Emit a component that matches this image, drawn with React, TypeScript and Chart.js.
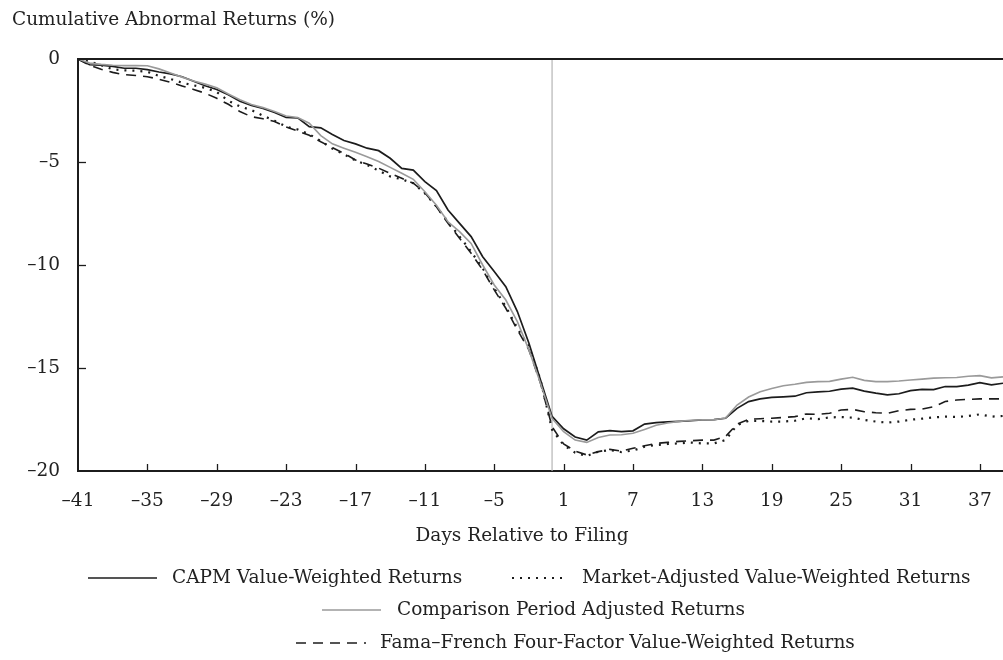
import { useEffect, useRef } from "react";
import { Chart, registerables } from "chart.js";

Chart.register(...registerables);

const days = [
  -41, -40, -39, -38, -37, -36, -35, -34, -33, -32, -31, -30, -29, -28, -27, -26, -25, -24, -23, -22, -21,
  -20, -19, -18, -17, -16, -15, -14, -13, -12, -11, -10, -9, -8, -7, -6, -5, -4, -3, -2, -1,
  0, 1, 2, 3, 4, 5, 6, 7, 8, 9, 10, 11, 12, 13, 14, 15, 16, 17, 18, 19,
  20, 21, 22, 23, 24, 25, 26, 27, 28, 29, 30, 31, 32, 33, 34, 35, 36, 37, 38, 39,
];

const capmVW = [
  0, -0.28, -0.3, -0.36, -0.45, -0.45, -0.52, -0.63, -0.72, -0.86, -1.08, -1.3, -1.48, -1.74, -2.05, -2.26, -2.4, -2.6, -2.84, -2.86, -3.28,
  -3.34, -3.66, -3.96, -4.12, -4.33, -4.45, -4.82, -5.31, -5.39, -5.95, -6.39, -7.33, -7.98, -8.62, -9.6, -10.32, -11.05, -12.26, -13.8, -15.58,
  -17.35, -17.95, -18.35, -18.5, -18.1, -18.04, -18.09, -18.05, -17.72, -17.65, -17.62, -17.59, -17.56, -17.52, -17.51, -17.44, -16.96, -16.63, -16.5, -16.43,
  -16.4, -16.37, -16.2, -16.16, -16.13, -16.03, -15.98, -16.12, -16.22, -16.3, -16.25, -16.1, -16.04, -16.05, -15.9, -15.9, -15.83, -15.71, -15.82, -15.74,
];

const marketAdjVW = [
  0, -0.12, -0.3, -0.5, -0.55, -0.57, -0.62, -0.82, -0.97, -1.15, -1.28, -1.4, -1.6, -2.03, -2.3, -2.48, -2.75, -3.0, -3.28, -3.42, -3.65,
  -3.98, -4.35, -4.62, -4.93, -5.14, -5.42, -5.7, -5.84, -6.03, -6.52, -7.17, -7.9, -8.62, -9.35, -10.16, -11.13, -12.02, -13.07, -13.96, -15.58,
  -18.0, -18.74, -19.11, -19.27, -19.06, -18.98, -19.08, -19.01, -18.82, -18.74, -18.69, -18.66, -18.62, -18.66, -18.66, -18.5, -17.77, -17.57, -17.57, -17.6,
  -17.6, -17.56, -17.44, -17.48, -17.4, -17.38, -17.41, -17.52, -17.6, -17.65, -17.6, -17.51, -17.46, -17.4, -17.36, -17.38, -17.33, -17.25, -17.36, -17.33,
];

const comparisonAdj = [
  0, -0.2, -0.26, -0.3, -0.32, -0.32, -0.33, -0.48, -0.68, -0.88, -1.07, -1.22, -1.4, -1.7, -1.98, -2.21, -2.36, -2.55, -2.77, -2.84, -3.12,
  -3.72, -4.12, -4.33, -4.53, -4.74, -4.98, -5.26, -5.55, -5.84, -6.44, -7.1, -7.9, -8.38, -8.95, -10.0, -10.97, -11.7, -12.75, -14.12, -15.74,
  -17.45, -18.09, -18.5, -18.61, -18.37, -18.25, -18.24, -18.17, -17.98, -17.78, -17.67, -17.59, -17.54, -17.52, -17.51, -17.43, -16.8, -16.41, -16.15, -16.0,
  -15.86, -15.79, -15.7, -15.66, -15.65, -15.54, -15.45, -15.6, -15.66, -15.66, -15.63, -15.58, -15.54, -15.49, -15.47, -15.46, -15.4, -15.37, -15.48, -15.43,
];

const famaFrenchVW = [
  0, -0.3, -0.5, -0.65, -0.76, -0.8, -0.86, -0.98, -1.13, -1.31, -1.48, -1.66, -1.91, -2.2, -2.55, -2.8, -2.9, -3.03, -3.3, -3.5, -3.7,
  -4.02, -4.3, -4.58, -4.9, -5.1, -5.3, -5.55, -5.79, -6.03, -6.49, -7.17, -7.98, -8.7, -9.43, -10.24, -11.21, -12.1, -13.15, -14.12, -15.74,
  -17.85, -18.69, -19.03, -19.22, -19.06, -18.95, -19.03, -18.9, -18.77, -18.66, -18.61, -18.56, -18.53, -18.5, -18.5, -18.33, -17.72, -17.49, -17.46, -17.44,
  -17.4, -17.36, -17.23, -17.25, -17.2, -17.04, -17.01, -17.12, -17.17, -17.2, -17.07, -17.01, -16.99, -16.88, -16.63, -16.55, -16.52, -16.5, -16.5, -16.5,
];

const xTicks = [-41, -35, -29, -23, -17, -11, -5, 1, 7, 13, 19, 25, 31, 37];
const yTicks = [0, -5, -10, -15, -20];

const yAxisTitle = "Cumulative Abnormal Returns (%)";
const xAxisTitle = "Days Relative to Filing";
const nameCapm = "CAPM Value-Weighted Returns";
const nameMarket = "Market-Adjusted Value-Weighted Returns";
const nameComparison = "Comparison Period Adjusted Returns";
const nameFF = "Fama\u2013French Four-Factor Value-Weighted Returns";

const FONT_FAMILY = '"DejaVu Serif", serif';
const FONT_SIZE = 18.5;
const TEXT = "#222222";
const DARK = "#1c1c1c";
const GREY = "#9a9a9a";
const DOT_DASH = [2, 6];
const LONG_DASH = [10, 7];

const fmt = (v: number) => (v < 0 ? "\u2013" + Math.abs(v) : String(v));

const toPoints = (vals: number[]) => days.map((d, i) => ({ x: d, y: vals[i] }));

const legendItems = [
  { label: nameCapm, color: DARK, dash: [] as number[], width: 1.7, x1: 88, x2: 157, tx: 172, y: 578 },
  { label: nameMarket, color: DARK, dash: DOT_DASH, width: 2.2, x1: 512, x2: 568, tx: 582, y: 578 },
  { label: nameComparison, color: GREY, dash: [] as number[], width: 1.6, x1: 322, x2: 381, tx: 397, y: 610 },
  { label: nameFF, color: DARK, dash: LONG_DASH, width: 1.6, x1: 296, x2: 366, tx: 380, y: 643 },
];

const decorPlugin = {
  id: "decor",
  beforeDatasetsDraw(chart: any) {
    const { ctx, chartArea: a, scales } = chart;
    const x0 = scales.x.getPixelForValue(0);
    ctx.save();
    ctx.strokeStyle = "#b5b5b5";
    ctx.lineWidth = 1.2;
    ctx.beginPath();
    ctx.moveTo(x0, a.top);
    ctx.lineTo(x0, a.bottom);
    ctx.stroke();
    ctx.restore();
  },
  afterDraw(chart: any) {
    const { ctx, chartArea: a, scales } = chart;
    ctx.save();
    // top frame line
    ctx.strokeStyle = DARK;
    ctx.lineWidth = 2;
    ctx.beginPath();
    ctx.moveTo(a.left, a.top);
    ctx.lineTo(chart.width, a.top);
    ctx.stroke();
    // inward tick marks
    ctx.lineWidth = 1.3;
    xTicks.slice(1).forEach((t) => {
      const px = Math.round(scales.x.getPixelForValue(t)) + 0.5;
      ctx.beginPath();
      ctx.moveTo(px, a.bottom);
      ctx.lineTo(px, a.bottom - 7);
      ctx.stroke();
    });
    yTicks.slice(1, -1).forEach((t) => {
      const py = Math.round(scales.y.getPixelForValue(t)) + 0.5;
      ctx.beginPath();
      ctx.moveTo(a.left, py);
      ctx.lineTo(a.left + 8, py);
      ctx.stroke();
    });
    // x axis title
    ctx.fillStyle = TEXT;
    ctx.font = `${FONT_SIZE}px ${FONT_FAMILY}`;
    ctx.textBaseline = "middle";
    ctx.textAlign = "center";
    ctx.fillText(xAxisTitle, 522, 536);
    // legend
    ctx.textAlign = "left";
    legendItems.forEach((it) => {
      ctx.strokeStyle = it.color;
      ctx.lineWidth = it.width;
      ctx.setLineDash(it.dash);
      ctx.beginPath();
      ctx.moveTo(it.x1, it.y);
      ctx.lineTo(it.x2, it.y);
      ctx.stroke();
      ctx.setLineDash([]);
      ctx.fillStyle = TEXT;
      ctx.fillText(it.label, it.tx, it.y);
    });
    ctx.restore();
  },
};

export default function App() {
  const ref = useRef<HTMLCanvasElement>(null);

  useEffect(() => {
    if (!ref.current) return;
    const font = { family: FONT_FAMILY, size: FONT_SIZE };
    const chart = new Chart(ref.current, {
      type: "line",
      data: {
        datasets: [
          {
            label: nameComparison,
            data: toPoints(comparisonAdj),
            borderColor: GREY,
            borderWidth: 1.6,
            pointRadius: 0,
            tension: 0,
          },
          {
            label: nameFF,
            data: toPoints(famaFrenchVW),
            borderColor: DARK,
            borderWidth: 1.6,
            borderDash: LONG_DASH,
            pointRadius: 0,
            tension: 0,
          },
          {
            label: nameMarket,
            data: toPoints(marketAdjVW),
            borderColor: DARK,
            borderWidth: 2.2,
            borderDash: DOT_DASH,
            pointRadius: 0,
            tension: 0,
          },
          {
            label: nameCapm,
            data: toPoints(capmVW),
            borderColor: DARK,
            borderWidth: 1.7,
            pointRadius: 0,
            tension: 0,
          },
        ],
      },
      options: {
        responsive: false,
        animation: false,
        devicePixelRatio: 1,
        layout: { padding: { left: 12, right: 0, top: 0, bottom: 139 } },
        plugins: {
          legend: { display: false },
          tooltip: { enabled: false },
          title: {
            display: true,
            text: yAxisTitle,
            align: "start",
            color: TEXT,
            font: { ...font, weight: "normal" },
            padding: { top: 9, bottom: 27.8 },
          },
        },
        scales: {
          x: {
            type: "linear",
            min: -41,
            max: 39,
            afterBuildTicks: (s: any) => {
              s.ticks = xTicks.map((v) => ({ value: v }));
            },
            afterFit: (s: any) => {
              s.height = 50;
              s.paddingLeft = 0;
              s.paddingRight = 0;
            },
            grid: { display: false, drawTicks: false },
            border: { display: true, color: DARK, width: 2 },
            ticks: {
              color: TEXT,
              font,
              padding: 19,
              maxRotation: 0,
              autoSkip: false,
              callback: (v: any) => fmt(Number(v)),
            },
          },
          y: {
            type: "linear",
            min: -20,
            max: 0,
            afterBuildTicks: (s: any) => {
              s.ticks = yTicks.map((v) => ({ value: v }));
            },
            afterFit: (s: any) => {
              s.width = 66;
              s.paddingTop = 0;
              s.paddingBottom = 0;
            },
            grid: { display: false, drawTicks: false },
            border: { display: true, color: DARK, width: 2 },
            ticks: {
              color: TEXT,
              font,
              padding: 18,
              autoSkip: false,
              callback: (v: any) => fmt(Number(v)),
            },
          },
        },
      },
      plugins: [decorPlugin],
    } as any);
    return () => chart.destroy();
  }, []);

  return (
    <div style={{ position: "absolute", left: 0, top: 0, width: 1003, height: 660, background: "#fff" }}>
      <canvas ref={ref} width={1003} height={660} style={{ display: "block" }} />
    </div>
  );
}
